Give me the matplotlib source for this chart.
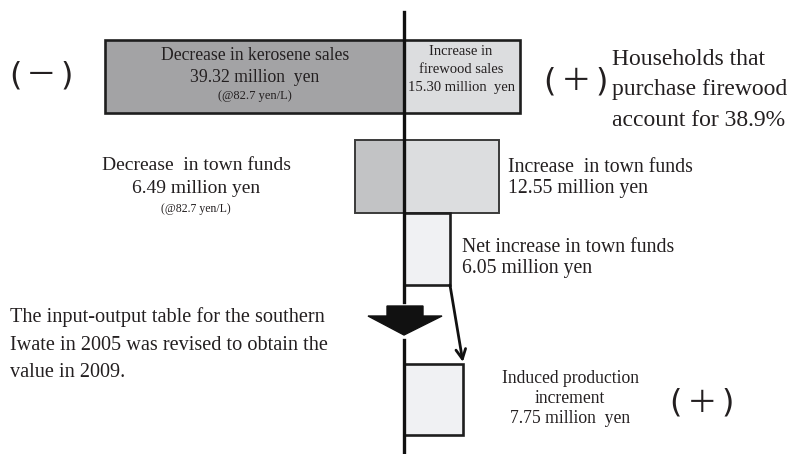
import matplotlib
matplotlib.use("Agg")
import matplotlib.pyplot as plt
from matplotlib.patches import Polygon

# values in million yen
kerosene_decrease = 39.32
firewood_increase = 15.30
town_decrease = 6.49
town_increase = 12.55
net_increase = 6.05
induced_increment = 7.75

SERIF = "Liberation Serif"
CJK = ["Noto Sans CJK JP", "DejaVu Sans"]
INK = "#231f20"
K = 7.6          # pixels per million yen
X0 = 404         # pixel position of the zero line

fig = plt.figure(figsize=(7.92, 4.54), dpi=100)

# axes for the boxes: x in million yen, y in pixel rows
ax = fig.add_axes([0, 0, 1, 1])
ax.set_xlim(-X0 / K, (792 - X0) / K)
ax.set_ylim(454, 0)
ax.axis("off")

# overlay for text, in pixels
at = fig.add_axes([0, 0, 1, 1], sharey=ax)
at.set_xlim(0, 792)
at.axis("off")
at.patch.set_alpha(0)

edge = "#1e1e1e"
lw = 1.9

# row 1: sales
ax.barh(76.5, kerosene_decrease, left=-kerosene_decrease, height=73,
        color="#a3a3a5", edgecolor=edge, linewidth=lw, zorder=2)
ax.barh(76.5, firewood_increase, left=0, height=73,
        color="#dcdddf", edgecolor=edge, linewidth=lw, zorder=2)
# row 2: town funds
ax.barh(176.5, town_decrease, left=-town_decrease, height=73,
        color="#c2c3c5", edgecolor="#3a3a3a", linewidth=1.4, zorder=2)
ax.barh(176.5, town_increase, left=0, height=73,
        color="#dcdddf", edgecolor="#3a3a3a", linewidth=1.4, zorder=2)
# row 3: net increase
ax.barh(249, net_increase, left=0, height=72,
        color="#f0f1f3", edgecolor=edge, linewidth=lw, zorder=2)
# row 4: induced production
ax.barh(399.5, induced_increment, left=0, height=71,
        color="#f0f1f3", edgecolor=edge, linewidth=lw, zorder=2)

# zero line (interrupted by the block arrow)
ax.plot([0, 0], [12, 302], color="#111111", lw=2.4, zorder=3)
ax.plot([0, 0], [340, 454], color="#111111", lw=2.4, zorder=3)

# thin arrow from net box to induced box
ax.annotate("", xy=(induced_increment, 362), xytext=(net_increase, 285),
            arrowprops=dict(arrowstyle="->,head_length=0.7,head_width=0.35",
                            color="#111111", lw=2, shrinkA=0, shrinkB=0),
            zorder=4)

# block arrow
at.add_patch(Polygon([(387, 306), (423, 306), (423, 316), (442, 316),
                      (404, 335), (368, 316), (387, 316)],
                     closed=True, color="#111111", zorder=4))


def sign(x, y, s):
    # parenthesised sign, glyphs placed one by one
    at.text(x - 26, y, "(", family="DejaVu Sans", fontsize=23, color=INK,
            ha="center", va="center")
    at.text(x, y, s, family=CJK, fontsize=22, color=INK,
            ha="center", va="center")
    at.text(x + 26, y, ")", family="DejaVu Sans", fontsize=23, color=INK,
            ha="center", va="center")


sign(41, 76, "－")
sign(576, 82, "＋")
sign(702, 403, "＋")


def line(x, y, s, size, ha="center"):
    at.text(x, y, s, family=SERIF, fontsize=size, ha=ha, va="baseline",
            color=INK)


for y, s in zip([65, 95, 126], ["Households that", "purchase firewood",
                                "account for 38.9%"]):
    line(612, y, s, 17, ha="left")

line(255, 60, "Decrease in kerosene sales", 12.7)
line(255, 82, "39.32 million  yen", 12.7)
line(255, 99, "(@82.7 yen/L)", 9)

for y, s in zip([55, 73, 91], ["Increase in", "firewood sales",
                               "15.30 million  yen"]):
    line(461, y, s, 10.5)

line(196, 170, "Decrease  in town funds", 14)
line(196, 193, "6.49 million yen", 14)
line(196, 212, "(@82.7 yen/L)", 8.5)

line(508, 172, "Increase  in town funds", 14.2, ha="left")
line(508, 193, "12.55 million yen", 14.2, ha="left")
line(462, 252, "Net increase in town funds", 14.2, ha="left")
line(462, 273, "6.05 million yen", 14.2, ha="left")

for y, s in zip([322, 350, 377],
                ["The input-output table for the southern",
                 "Iwate in 2005 was revised to obtain the",
                 "value in 2009."]):
    line(10, y, s, 14.6, ha="left")

for y, s in zip([383, 403, 423], ["Induced production", "increment",
                                  "7.75 million  yen"]):
    line(570, y, s, 12.7)

fig.savefig("out.png", dpi=100)
